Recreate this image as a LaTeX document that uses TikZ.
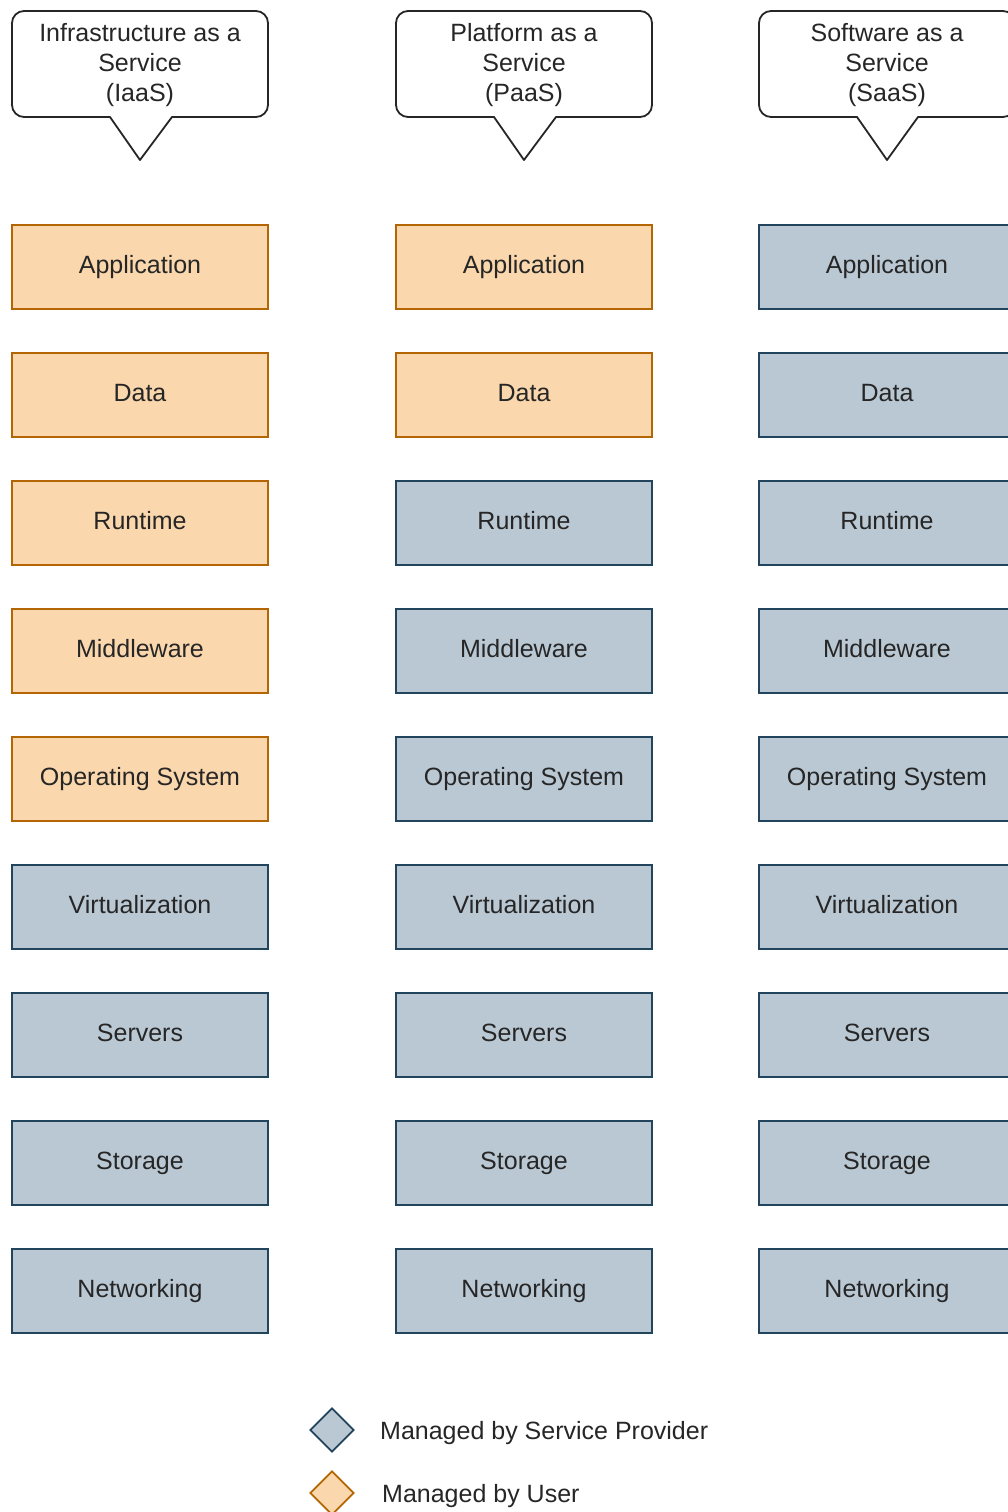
\documentclass[tikz,border=0pt]{standalone}
\usepackage{fontspec}
\setmainfont{Liberation Sans}
\usetikzlibrary{shapes.geometric}
\definecolor{userfill}{HTML}{FAD7AC}
\definecolor{userline}{HTML}{B46504}
\definecolor{provfill}{HTML}{BAC8D3}
\definecolor{provline}{HTML}{23445D}
\definecolor{ink}{HTML}{262626}

\begin{document}
\begin{tikzpicture}[x=1pt, y=-1pt,
  layer/.style={rectangle, minimum width=256pt, minimum height=84pt, inner sep=0pt,
    line width=1.8pt, text=ink, font=\fontsize{25}{30}\selectfont,
    text height=17pt, text depth=5pt},
  user/.style={layer, fill=userfill, draw=userline},
  prov/.style={layer, fill=provfill, draw=provline},
  calltext/.style={align=center, inner sep=0pt, text=ink, font=\fontsize{25}{30}\selectfont},
  callout/.style={draw=black!85, line width=1.8pt, fill=white, line join=round},
  legmark/.style={diamond, minimum width=44pt, minimum height=44pt, inner sep=0pt, line width=1.8pt},
  legtext/.style={anchor=base west, inner sep=0pt, text=ink, font=\fontsize{25}{30}\selectfont}]

\useasboundingbox (0,0) rectangle (1008,1512);

% speech-bubble headers: rounded box with a sharp pointer
\draw[callout] (140,160) -- (110,117) [rounded corners=12pt] -- (12,117) -- (12,11) -- (268,11)
  -- (268,117) [sharp corners] -- (172,117) -- cycle;
\draw[callout] (524,160) -- (494,117) [rounded corners=12pt] -- (396,117) -- (396,11) -- (652,11)
  -- (652,117) [sharp corners] -- (556,117) -- cycle;
\draw[callout] (887,160) -- (857,117) [rounded corners=12pt] -- (759,117) -- (759,11) -- (1015,11)
  -- (1015,117) [sharp corners] -- (918,117) -- cycle;
\node[calltext] (hIaaS) at (140,65.5) {Infrastructure as a\\Service\\(IaaS)};
\node[calltext] (hPaaS) at (524,65.5) {Platform as a\\Service\\(PaaS)};
\node[calltext] (hSaaS) at (887,65.5) {Software as a\\Service\\(SaaS)};

% IaaS stack
\node[user] (i1) at (140,267)  {Application};
\node[user] (i2) at (140,395)  {Data};
\node[user] (i3) at (140,523)  {Runtime};
\node[user] (i4) at (140,651)  {Middleware};
\node[user] (i5) at (140,779)  {Operating System};
\node[prov] (i6) at (140,907)  {Virtualization};
\node[prov] (i7) at (140,1035) {Servers};
\node[prov] (i8) at (140,1163) {Storage};
\node[prov] (i9) at (140,1291) {Networking};

% PaaS stack
\node[user] (p1) at (524,267)  {Application};
\node[user] (p2) at (524,395)  {Data};
\node[prov] (p3) at (524,523)  {Runtime};
\node[prov] (p4) at (524,651)  {Middleware};
\node[prov] (p5) at (524,779)  {Operating System};
\node[prov] (p6) at (524,907)  {Virtualization};
\node[prov] (p7) at (524,1035) {Servers};
\node[prov] (p8) at (524,1163) {Storage};
\node[prov] (p9) at (524,1291) {Networking};

% SaaS stack
\node[prov] (s1) at (887,267)  {Application};
\node[prov] (s2) at (887,395)  {Data};
\node[prov] (s3) at (887,523)  {Runtime};
\node[prov] (s4) at (887,651)  {Middleware};
\node[prov] (s5) at (887,779)  {Operating System};
\node[prov] (s6) at (887,907)  {Virtualization};
\node[prov] (s7) at (887,1035) {Servers};
\node[prov] (s8) at (887,1163) {Storage};
\node[prov] (s9) at (887,1291) {Networking};

% legend
\node[legmark, fill=provfill, draw=provline] (lp) at (332,1430) {};
\node[legtext] (lpt) at (380,1439) {Managed by Service Provider};
\node[legmark, fill=userfill, draw=userline] (lu) at (332,1493) {};
\node[legtext] (lut) at (382,1502) {Managed by User};
\end{tikzpicture}
\end{document}
